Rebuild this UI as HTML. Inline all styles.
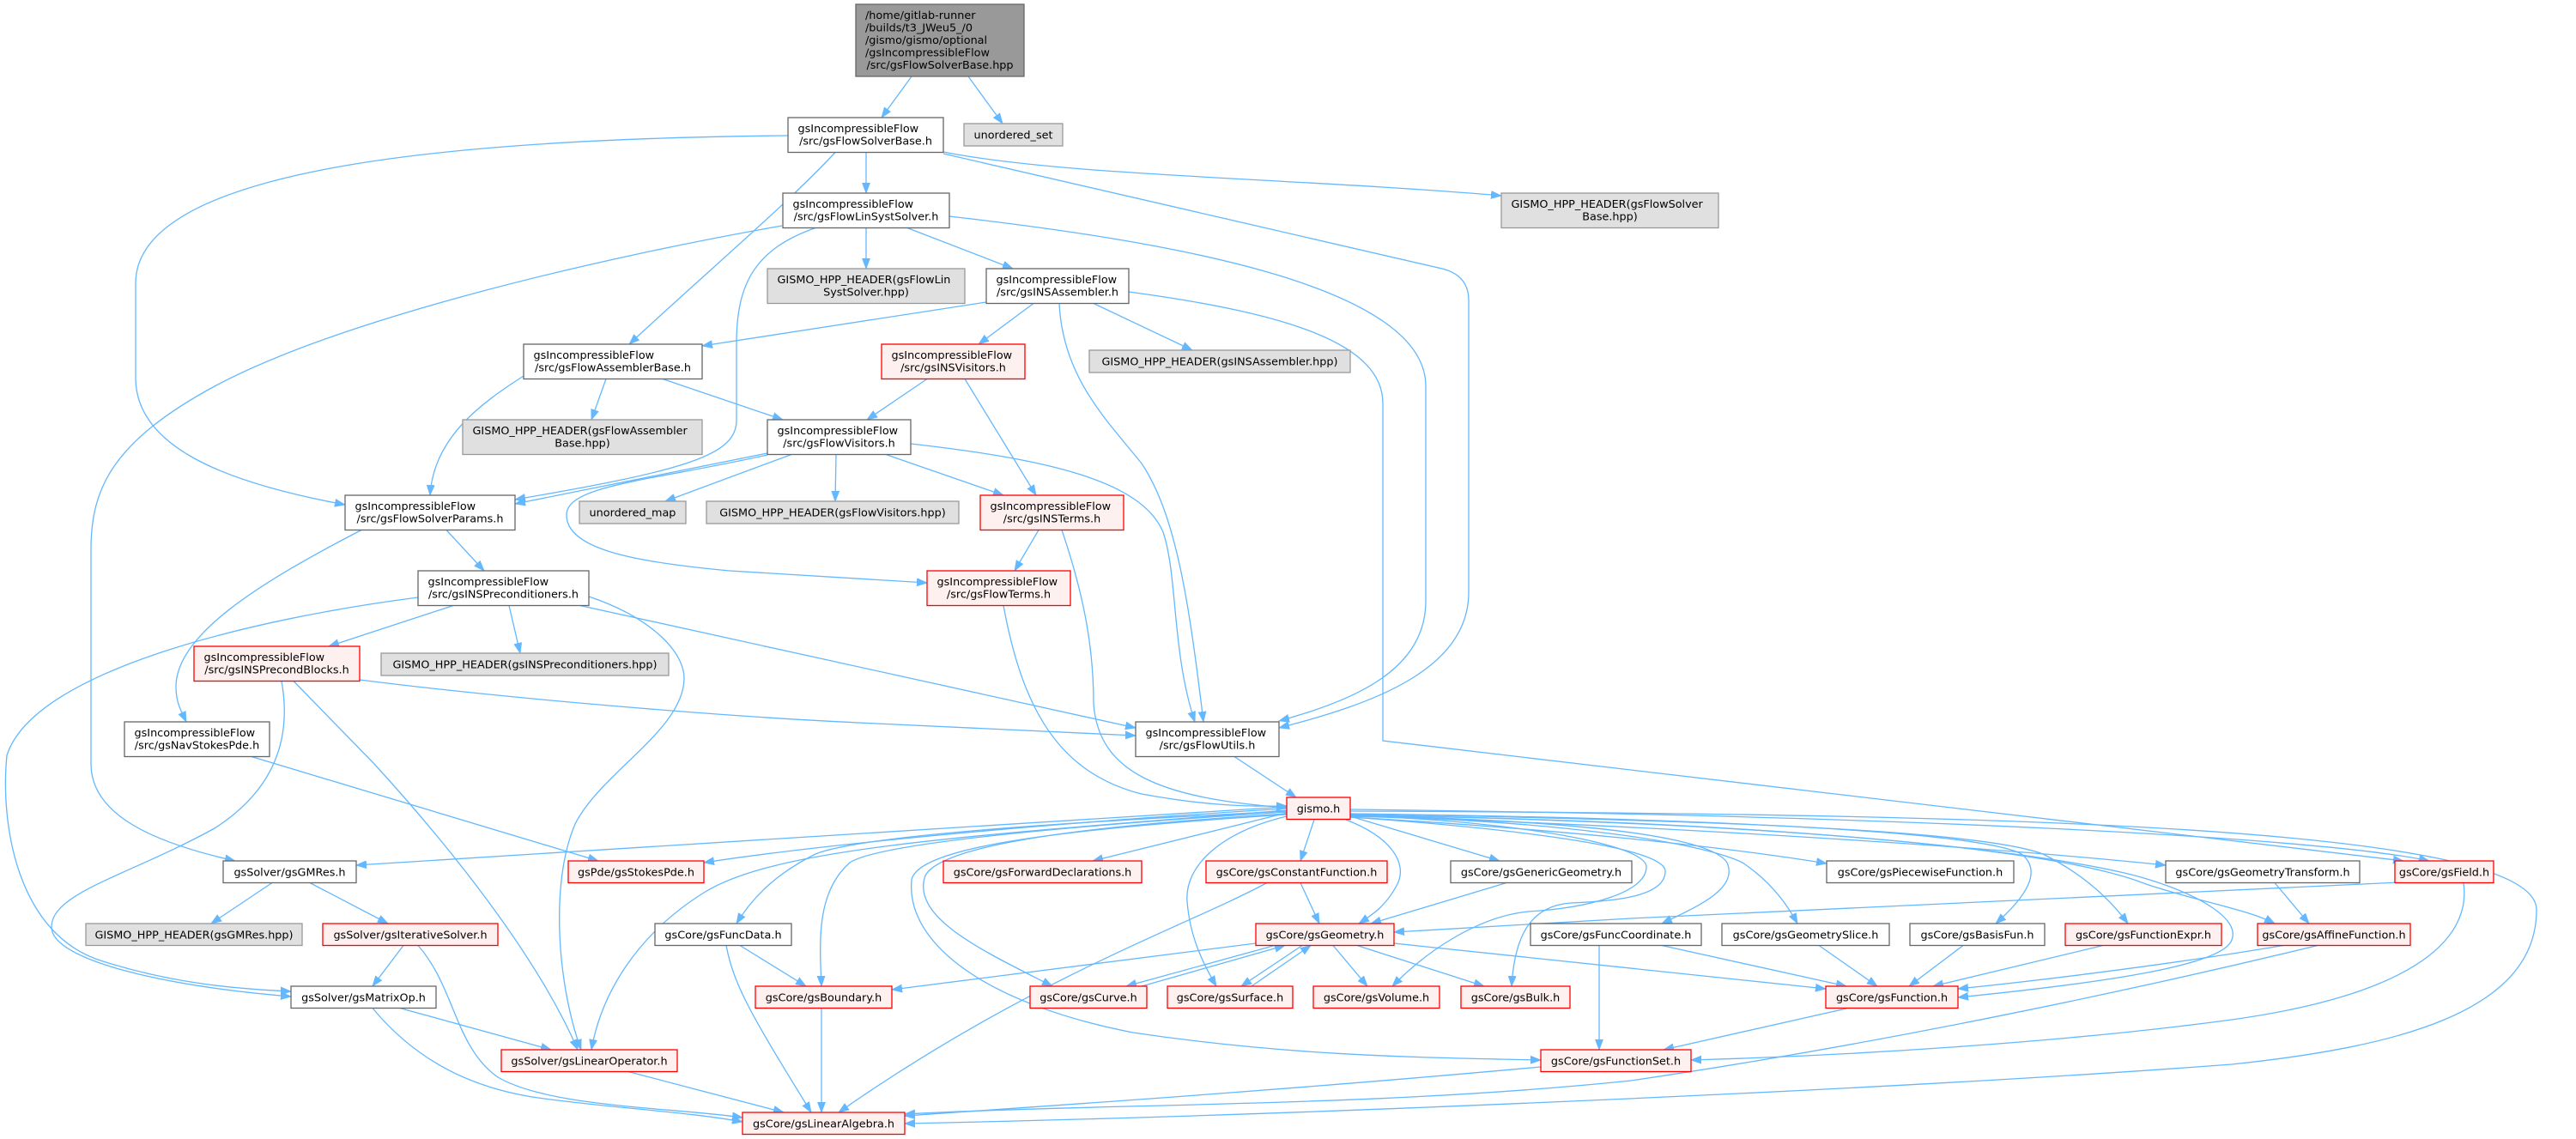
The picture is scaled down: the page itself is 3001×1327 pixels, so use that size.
<!DOCTYPE html>
<html><head><meta charset="utf-8"><style>
html,body{margin:0;padding:0;background:#fff;}
svg{display:block;}
text{font-family:"DejaVu Sans","Liberation Sans",sans-serif;font-size:12.8px;fill:#000;}
.n{fill:#fff;stroke:#666;stroke-width:1.3}
.r{fill:#FFF0F0;stroke:#F00;stroke-width:1.3}
.g{fill:#E0E0E0;stroke:#999;stroke-width:1.3}
.rt{fill:#999;stroke:#666;stroke-width:1.3}
.e path{fill:none;stroke:#63B8FF;stroke-width:1.3;marker-end:url(#a)}
.m{text-anchor:middle}
</style></head><body>
<svg width="3001" height="1327" viewBox="0 0 3001 1327" xmlns="http://www.w3.org/2000/svg">
<defs><marker id="a" markerUnits="userSpaceOnUse" markerWidth="13" markerHeight="10" refX="12" refY="5" orient="auto"><path d="M0,0.5 L12,5 L0,9.5z" fill="#63B8FF" stroke="#63B8FF" stroke-width="0.8"/></marker></defs>
<rect width="3001" height="1327" fill="#fff"/>
<g class="e">
<path d="M1062,89 L1027,137"/>
<path d="M1128,89 L1168,144"/>
<path d="M1009,177.5 L1009,225"/>
<path d="M1099,177 C1240,205 1500,207 1749,228"/>
<path d="M973,177.5 C920,235 820,320 733,401"/>
<path d="M918,158 C500,162 158,200 158,330 L158,440 C158,520 260,562 402,588"/>
<path d="M1099,179 L1680,313 C1700,318 1711,330 1711,350 L1711,690 C1711,780 1600,820 1490,848"/>
<path d="M1009,265.5 L1009,313"/>
<path d="M1057,265.5 L1180,313"/>
<path d="M911,263 C700,300 400,370 250,450 C130,515 106,570 106,640 L106,890 C106,950 180,982 274,1003"/>
<path d="M950,265.5 C880,290 858,330 858,400 L858,490 C858,530 800,548 600,582"/>
<path d="M1106,252 C1350,280 1661,330 1661,450 L1661,700 C1661,780 1580,815 1490,840"/>
<path d="M1149,352 L818,403"/>
<path d="M1204,353.5 L1140,401"/>
<path d="M1274,353.5 L1389,408"/>
<path d="M1234,353.5 C1238,440 1290,490 1330,540 C1370,600 1385,700 1402,841"/>
<path d="M1315,340 C1500,365 1611,400 1611,470 L1611,863 L2800,1003"/>
<path d="M706,441.5 L689,489"/>
<path d="M772,441.5 L912,489"/>
<path d="M610,438 C560,470 505,510 501,577"/>
<path d="M1080,441.5 L1010,489"/>
<path d="M1124,441.5 L1207,577"/>
<path d="M894,528 L600,587"/>
<path d="M922,529.5 L775,584"/>
<path d="M974,529.5 L973,584"/>
<path d="M1032,529.5 L1169,577"/>
<path d="M1061,517 C1220,535 1330,560 1355,620 C1372,670 1365,760 1392,841"/>
<path d="M894,530 C760,560 660,565 660,600 C660,640 740,655 850,665 L1080,679"/>
<path d="M1210,617.5 L1182,665"/>
<path d="M1237,617.5 C1265,700 1274,760 1274,820 C1280,900 1350,930 1499,941"/>
<path d="M1169,705.5 C1190,820 1230,900 1330,925 C1400,938 1450,940 1499,939"/>
<path d="M520,617.5 L564,665"/>
<path d="M421,617.5 C300,680 205,740 205,800 C205,820 212,830 217,841"/>
<path d="M528,705.5 L383,753"/>
<path d="M593,705.5 L606,761"/>
<path d="M676,705.5 L1323,848"/>
<path d="M487,696 C300,720 40,780 8,880 C0,960 20,1090 120,1120 C200,1145 270,1152 339,1155"/>
<path d="M686,695 C760,720 797,760 797,790 C797,850 700,900 670,960 C640,1030 650,1150 677,1223"/>
<path d="M419,792 C600,815 850,835 1000,842 L1323,857"/>
<path d="M328,793.5 C340,860 320,920 250,965 C150,1020 60,1040 60,1080 C60,1120 200,1150 339,1161"/>
<path d="M342,793.5 L436,890 C500,960 620,1100 673,1223"/>
<path d="M293,881.5 L697,1003"/>
<path d="M1438,881.5 L1510,929"/>
<path d="M317,1028.5 L246,1076"/>
<path d="M361,1028.5 L452,1076"/>
<path d="M470,1101.5 L434,1149"/>
<path d="M487,1101.5 C530,1150 530,1220 580,1255 C640,1290 780,1290 865,1302"/>
<path d="M466,1174.5 L642,1223"/>
<path d="M434,1174.5 C480,1230 540,1265 620,1278 C700,1290 800,1295 865,1307"/>
<path d="M732,1248.5 L913,1296"/>
<path d="M1499,940 L415,1008"/>
<path d="M1499,942 C1200,960 950,985 820,1005"/>
<path d="M1499,944 C1100,975 900,990 820,1040 C740,1090 700,1160 689,1223"/>
<path d="M1499,945 C1200,960 1000,975 950,995 C910,1015 880,1040 858,1076"/>
<path d="M1499,946 C1200,965 1020,985 990,1005 C950,1040 955,1100 957,1149"/>
<path d="M1499,947 L1273,1003"/>
<path d="M1499,948 C1300,960 1100,980 1078,1020 C1060,1070 1150,1110 1226,1149"/>
<path d="M1499,949 C1250,965 1070,985 1062,1025 C1055,1100 1150,1170 1320,1203 C1500,1230 1650,1232 1795,1235"/>
<path d="M1531,955 L1515,1003"/>
<path d="M1568,955 C1620,975 1640,1005 1628,1030 C1615,1055 1600,1065 1583,1076"/>
<path d="M1573,951 L1747,1003"/>
<path d="M1499,951 C1420,970 1380,1010 1383,1050 C1386,1090 1400,1120 1417,1149"/>
<path d="M1573,950 C1780,958 1918,985 1918,1010 C1918,1040 1850,1058 1780,1062 C1720,1068 1660,1110 1622,1149"/>
<path d="M1573,952 C1800,968 1940,990 1940,1015 C1940,1045 1880,1050 1830,1052 C1790,1055 1765,1080 1761,1149"/>
<path d="M1573,950 C1800,955 1990,970 2012,1005 C2025,1035 1980,1055 1936,1076"/>
<path d="M1573,951 C1800,955 1980,980 2030,1005 C2060,1025 2080,1050 2094,1076"/>
<path d="M1573,948 C1900,952 2300,965 2355,995 C2380,1015 2360,1045 2325,1076"/>
<path d="M1573,948 C1950,955 2300,965 2380,995 C2430,1020 2460,1050 2479,1076"/>
<path d="M1573,952 C1800,965 2000,985 2128,1006"/>
<path d="M1573,951 C1900,960 2300,985 2523,1008"/>
<path d="M1573,943 C2200,950 2700,975 2830,1003"/>
<path d="M1573,949 C2100,960 2400,990 2500,1030 C2560,1050 2620,1060 2650,1076"/>
<path d="M1573,950 C2000,955 2350,985 2487,1020 C2560,1040 2610,1070 2600,1095 C2590,1125 2450,1145 2281,1162"/>
<path d="M1573,945 C2300,948 2955,960 2955,1060 C2955,1180 2790,1220 2600,1240 C2200,1270 1500,1300 1054,1309"/>
<path d="M1515,1028.5 L1537,1076"/>
<path d="M1476,1028.5 C1380,1080 1200,1140 977,1296"/>
<path d="M1755,1028.5 L1597,1076"/>
<path d="M1463,1099 C1300,1120 1150,1140 1039,1153"/>
<path d="M1485,1101.5 L1312,1149"/>
<path d="M1330,1149 L1497,1101.5"/>
<path d="M1517,1101.5 L1446,1149"/>
<path d="M1458,1149 L1527,1101.5"/>
<path d="M1553,1101.5 L1593,1149"/>
<path d="M1581,1101.5 L1729,1149"/>
<path d="M1624,1099 L2127,1152"/>
<path d="M862,1101.5 L939,1149"/>
<path d="M846,1101.5 C855,1150 880,1190 945,1296"/>
<path d="M957,1175 L957,1296"/>
<path d="M1936,1101.5 L2151,1149"/>
<path d="M1863,1101.5 L1863,1223"/>
<path d="M2119,1101.5 L2187,1149"/>
<path d="M2287,1101.5 L2224,1149"/>
<path d="M2450,1101.5 L2252,1149"/>
<path d="M2151,1175 L1938,1223"/>
<path d="M1795,1243 C1500,1270 1200,1290 1054,1300"/>
<path d="M2650,1028.5 L2690,1076"/>
<path d="M2660,1101.5 C2550,1120 2400,1140 2281,1152"/>
<path d="M2700,1101.5 C2500,1150 2200,1215 1900,1259 C1600,1290 1300,1285 1054,1298"/>
<path d="M2795,1028 C2700,1034 2300,1050 1900,1070 C1750,1078 1680,1082 1624,1086"/>
<path d="M2870,1028.5 C2880,1100 2800,1160 2600,1188 C2400,1215 2150,1230 1970,1235"/>
</g>

<!-- Nodes -->
<rect class="rt" x="997" y="5" width="196" height="84"/>
<text x="1008" y="22">/home/gitlab-runner</text>
<text x="1008" y="36.5">/builds/t3_JWeu5_/0</text>
<text x="1008" y="51">/gismo/gismo/optional</text>
<text x="1008" y="65.5">/gsIncompressibleFlow</text>
<text x="1095" y="80" class="m">/src/gsFlowSolverBase.hpp</text>

<rect class="n" x="918" y="137" width="181" height="40.5"/>
<text x="929.5" y="154">gsIncompressibleFlow</text>
<text x="1008.5" y="168.5" class="m">/src/gsFlowSolverBase.h</text>

<rect class="g" x="1123" y="144" width="115" height="26"/>
<text x="1180.5" y="161.5" class="m">unordered_set</text>

<rect class="g" x="1749" y="225" width="253" height="40.5"/>
<text x="1760.5" y="242">GISMO_HPP_HEADER(gsFlowSolver</text>
<text x="1875.5" y="256.5" class="m">Base.hpp)</text>

<rect class="n" x="912" y="225" width="194" height="40.5"/>
<text x="923.5" y="242">gsIncompressibleFlow</text>
<text x="1009" y="256.5" class="m">/src/gsFlowLinSystSolver.h</text>

<rect class="g" x="894" y="313" width="230" height="40.5"/>
<text x="905.5" y="330">GISMO_HPP_HEADER(gsFlowLin</text>
<text x="1009" y="344.5" class="m">SystSolver.hpp)</text>

<rect class="n" x="1149" y="313" width="166" height="40.5"/>
<text x="1160.5" y="330">gsIncompressibleFlow</text>
<text x="1232" y="344.5" class="m">/src/gsINSAssembler.h</text>

<rect class="n" x="610" y="401" width="208" height="40.5"/>
<text x="621.5" y="418">gsIncompressibleFlow</text>
<text x="714" y="432.5" class="m">/src/gsFlowAssemblerBase.h</text>

<rect class="r" x="1027" y="401" width="167" height="40.5"/>
<text x="1038.5" y="418">gsIncompressibleFlow</text>
<text x="1110.5" y="432.5" class="m">/src/gsINSVisitors.h</text>

<rect class="g" x="1269" y="408" width="304" height="26"/>
<text x="1421" y="425.5" class="m">GISMO_HPP_HEADER(gsINSAssembler.hpp)</text>

<rect class="g" x="539" y="489" width="279" height="40.5"/>
<text x="550.5" y="506">GISMO_HPP_HEADER(gsFlowAssembler</text>
<text x="678.5" y="520.5" class="m">Base.hpp)</text>

<rect class="n" x="894" y="489" width="167" height="40.5"/>
<text x="905.5" y="506">gsIncompressibleFlow</text>
<text x="977.5" y="520.5" class="m">/src/gsFlowVisitors.h</text>

<rect class="n" x="402" y="577" width="198" height="40.5"/>
<text x="413.5" y="594">gsIncompressibleFlow</text>
<text x="501" y="608.5" class="m">/src/gsFlowSolverParams.h</text>

<rect class="g" x="675" y="584" width="124" height="26"/>
<text x="737" y="601.5" class="m">unordered_map</text>

<rect class="g" x="823" y="584" width="294" height="26"/>
<text x="970" y="601.5" class="m">GISMO_HPP_HEADER(gsFlowVisitors.hpp)</text>

<rect class="r" x="1142" y="577" width="167" height="40.5"/>
<text x="1153.5" y="594">gsIncompressibleFlow</text>
<text x="1225.5" y="608.5" class="m">/src/gsINSTerms.h</text>

<rect class="n" x="487" y="665" width="199" height="40.5"/>
<text x="498.5" y="682">gsIncompressibleFlow</text>
<text x="586.5" y="696.5" class="m">/src/gsINSPreconditioners.h</text>

<rect class="r" x="1080" y="665" width="167" height="40.5"/>
<text x="1091.5" y="682">gsIncompressibleFlow</text>
<text x="1163.5" y="696.5" class="m">/src/gsFlowTerms.h</text>

<rect class="r" x="226" y="753" width="193" height="40.5"/>
<text x="237.5" y="770">gsIncompressibleFlow</text>
<text x="322.5" y="784.5" class="m">/src/gsINSPrecondBlocks.h</text>

<rect class="g" x="444" y="761" width="335" height="26"/>
<text x="611.5" y="778.5" class="m">GISMO_HPP_HEADER(gsINSPreconditioners.hpp)</text>

<rect class="n" x="145" y="841" width="169" height="40.5"/>
<text x="156.5" y="858">gsIncompressibleFlow</text>
<text x="229.5" y="872.5" class="m">/src/gsNavStokesPde.h</text>

<rect class="n" x="1323" y="841" width="167" height="40.5"/>
<text x="1334.5" y="858">gsIncompressibleFlow</text>
<text x="1406.5" y="872.5" class="m">/src/gsFlowUtils.h</text>

<rect class="r" x="1499" y="929" width="74" height="25.5"/>
<text x="1536" y="946.5" class="m">gismo.h</text>

<!-- row 1 -->
<rect class="n" x="260" y="1003" width="155" height="25.5"/>
<text x="337.5" y="1020.5" class="m">gsSolver/gsGMRes.h</text>
<rect class="r" x="662" y="1003" width="158" height="25.5"/>
<text x="741" y="1020.5" class="m">gsPde/gsStokesPde.h</text>
<rect class="r" x="1099" y="1003" width="231" height="25.5"/>
<text x="1214.5" y="1020.5" class="m">gsCore/gsForwardDeclarations.h</text>
<rect class="r" x="1405" y="1003" width="211" height="25.5"/>
<text x="1510.5" y="1020.5" class="m">gsCore/gsConstantFunction.h</text>
<rect class="n" x="1690" y="1003" width="211" height="25.5"/>
<text x="1795.5" y="1020.5" class="m">gsCore/gsGenericGeometry.h</text>
<rect class="n" x="2128" y="1003" width="218" height="25.5"/>
<text x="2237" y="1020.5" class="m">gsCore/gsPiecewiseFunction.h</text>
<rect class="n" x="2523" y="1003" width="226" height="25.5"/>
<text x="2636" y="1020.5" class="m">gsCore/gsGeometryTransform.h</text>
<rect class="r" x="2790" y="1003" width="115" height="25.5"/>
<text x="2847.5" y="1020.5" class="m">gsCore/gsField.h</text>

<!-- row 2 -->
<rect class="g" x="100" y="1076" width="252" height="25.5"/>
<text x="226" y="1093.5" class="m">GISMO_HPP_HEADER(gsGMRes.hpp)</text>
<rect class="r" x="376" y="1076" width="204" height="25.5"/>
<text x="478" y="1093.5" class="m">gsSolver/gsIterativeSolver.h</text>
<rect class="n" x="763" y="1076" width="159" height="25.5"/>
<text x="842.5" y="1093.5" class="m">gsCore/gsFuncData.h</text>
<rect class="r" x="1463" y="1076" width="161" height="25.5"/>
<text x="1543.5" y="1093.5" class="m">gsCore/gsGeometry.h</text>
<rect class="n" x="1783" y="1076" width="199" height="25.5"/>
<text x="1882.5" y="1093.5" class="m">gsCore/gsFuncCoordinate.h</text>
<rect class="n" x="2006" y="1076" width="195" height="25.5"/>
<text x="2103.5" y="1093.5" class="m">gsCore/gsGeometrySlice.h</text>
<rect class="n" x="2225" y="1076" width="157" height="25.5"/>
<text x="2303.5" y="1093.5" class="m">gsCore/gsBasisFun.h</text>
<rect class="r" x="2406" y="1076" width="182" height="25.5"/>
<text x="2497" y="1093.5" class="m">gsCore/gsFunctionExpr.h</text>
<rect class="r" x="2630" y="1076" width="178" height="25.5"/>
<text x="2719" y="1093.5" class="m">gsCore/gsAffineFunction.h</text>

<!-- row 3 -->
<rect class="n" x="339" y="1149" width="169" height="25.5"/>
<text x="423.5" y="1166.5" class="m">gsSolver/gsMatrixOp.h</text>
<rect class="r" x="880" y="1149" width="159" height="25.5"/>
<text x="959.5" y="1166.5" class="m">gsCore/gsBoundary.h</text>
<rect class="r" x="1200" y="1149" width="136" height="25.5"/>
<text x="1268" y="1166.5" class="m">gsCore/gsCurve.h</text>
<rect class="r" x="1360" y="1149" width="146" height="25.5"/>
<text x="1433" y="1166.5" class="m">gsCore/gsSurface.h</text>
<rect class="r" x="1530" y="1149" width="147" height="25.5"/>
<text x="1603.5" y="1166.5" class="m">gsCore/gsVolume.h</text>
<rect class="r" x="1702" y="1149" width="127" height="25.5"/>
<text x="1765.5" y="1166.5" class="m">gsCore/gsBulk.h</text>
<rect class="r" x="2127" y="1149" width="154" height="25.5"/>
<text x="2204" y="1166.5" class="m">gsCore/gsFunction.h</text>

<!-- row 4 -->
<rect class="r" x="584" y="1223" width="205" height="25.5"/>
<text x="686.5" y="1240.5" class="m">gsSolver/gsLinearOperator.h</text>
<rect class="r" x="1795" y="1223" width="175" height="25.5"/>
<text x="1882.5" y="1240.5" class="m">gsCore/gsFunctionSet.h</text>

<!-- row 5 -->
<rect class="r" x="865" y="1296" width="189" height="25.5"/>
<text x="959.5" y="1313.5" class="m">gsCore/gsLinearAlgebra.h</text>
</svg>
</body></html>
